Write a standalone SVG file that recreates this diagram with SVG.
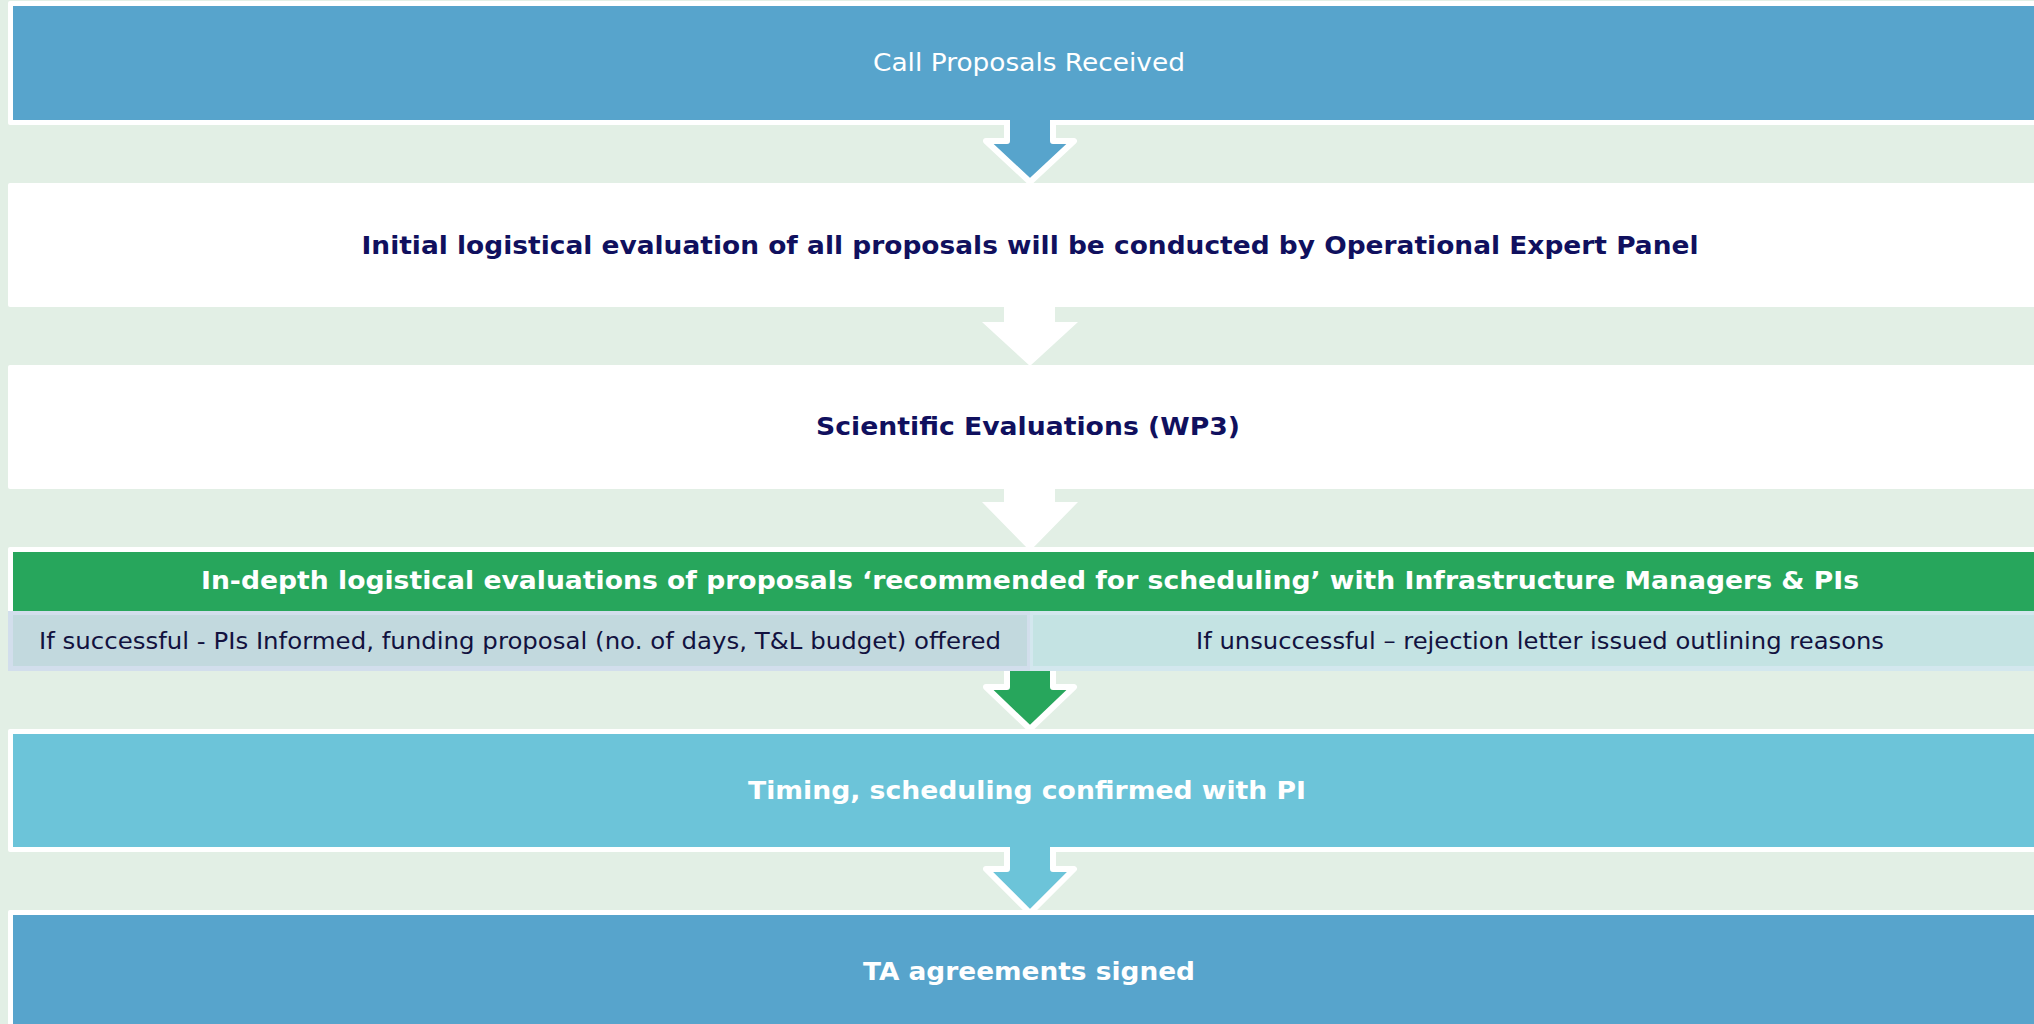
<svg xmlns="http://www.w3.org/2000/svg" width="2034" height="1024" viewBox="0 0 2034 1024">
  <style>
    .frame { fill: #ffffff; }
    .blue { fill: #57A4CC; }
    .lblue { fill: #6CC4D9; }
    .green { fill: #27A65C; }
    .t { font-family: "DejaVu Sans", Verdana, "Liberation Sans", sans-serif; text-anchor: middle; }
    .tw { fill: #ffffff; }
    .tb { font-weight: bold; }
    .navy { fill: #10105E; }
    .dark { fill: #12123F; }
    .arrow-out { stroke: #ffffff; stroke-width: 6; stroke-linejoin: round; }
  </style>
  <rect x="0" y="0" width="2034" height="1024" fill="#E2EFE5"/>

  <g id="connectors">
    <path class="blue arrow-out" d="M1007,112 V141 H986 L1030,182 L1074,141 H1053 V112"/>
    <path fill="#ffffff" d="M1004,300 V322 H982 L1030,366 L1078,322 H1055 V300 Z"/>
    <path fill="#ffffff" d="M1004,482 V502 H982 L1030,551 L1078,502 H1055 V482 Z"/>
    <path class="green arrow-out" d="M1007,660 V687 H986 L1030,729 L1074,687 H1053 V660"/>
    <path class="lblue arrow-out" d="M1007,840 V869 H986 L1030,913 L1074,869 H1053 V840"/>
  </g>

  <g id="node-call">
    <rect class="frame" x="8" y="1" width="2030" height="124" rx="2"/>
    <rect class="blue" x="13" y="6" width="2025" height="114"/>
    <path class="blue" d="M1010,112 H1050 V130 H1010 Z"/>
    <text class="t tw" x="1029" y="71" font-size="24" textLength="312" lengthAdjust="spacingAndGlyphs">Call Proposals Received</text>
  </g>

  <g id="node-initial">
    <rect class="frame" x="8" y="183" width="2030" height="124" rx="2"/>
    <text class="t tb navy" x="1030" y="254" font-size="25" textLength="1337" lengthAdjust="spacingAndGlyphs">Initial logistical evaluation of all proposals will be conducted by Operational Expert Panel</text>
  </g>

  <g id="node-scientific">
    <rect class="frame" x="8" y="365" width="2030" height="124" rx="2"/>
    <text class="t tb navy" x="1028" y="435" font-size="25" textLength="424" lengthAdjust="spacingAndGlyphs">Scientific Evaluations (WP3)</text>
  </g>

  <g id="node-indepth">
    <rect class="frame" x="8" y="547" width="2030" height="70" rx="2"/>
    <rect class="green" x="13" y="552" width="2025" height="60"/>
    <text class="t tb tw" x="1030" y="589" font-size="25" textLength="1658" lengthAdjust="spacingAndGlyphs">In-depth logistical evaluations of proposals ‘recommended for scheduling’ with Infrastructure Managers &amp; PIs</text>
  </g>

  <g id="node-success">
    <rect x="8" y="611" width="1022" height="60" fill="#D2DEEC"/>
    <rect x="13" y="615" width="1014" height="51" fill="#C2D9DE"/>
    <text class="t dark" x="520" y="649" font-size="23" textLength="962" lengthAdjust="spacingAndGlyphs">If successful - PIs Informed, funding proposal (no. of days, T&amp;L budget) offered</text>
  </g>

  <g id="node-unsuccess">
    <rect x="1030" y="611" width="1008" height="60" fill="#D3E7EE"/>
    <rect x="1033" y="615" width="1005" height="51" fill="#C4E3E3"/>
    <text class="t dark" x="1540" y="649" font-size="23" textLength="688" lengthAdjust="spacingAndGlyphs">If unsuccessful – rejection letter issued outlining reasons</text>
  </g>

  <g id="node-timing">
    <rect class="frame" x="8" y="729" width="2030" height="123" rx="2"/>
    <rect class="lblue" x="13" y="734" width="2025" height="113"/>
    <path class="lblue" d="M1010,840 H1050 V856 H1010 Z"/>
    <text class="t tb tw" x="1027" y="799" font-size="25" textLength="558" lengthAdjust="spacingAndGlyphs">Timing, scheduling confirmed with PI</text>
  </g>

  <g id="node-ta">
    <rect class="frame" x="8" y="910" width="2030" height="120" rx="2"/>
    <rect class="blue" x="13" y="915" width="2025" height="115"/>
    <text class="t tb tw" x="1029" y="980" font-size="25" textLength="332" lengthAdjust="spacingAndGlyphs">TA agreements signed</text>
  </g>
</svg>
